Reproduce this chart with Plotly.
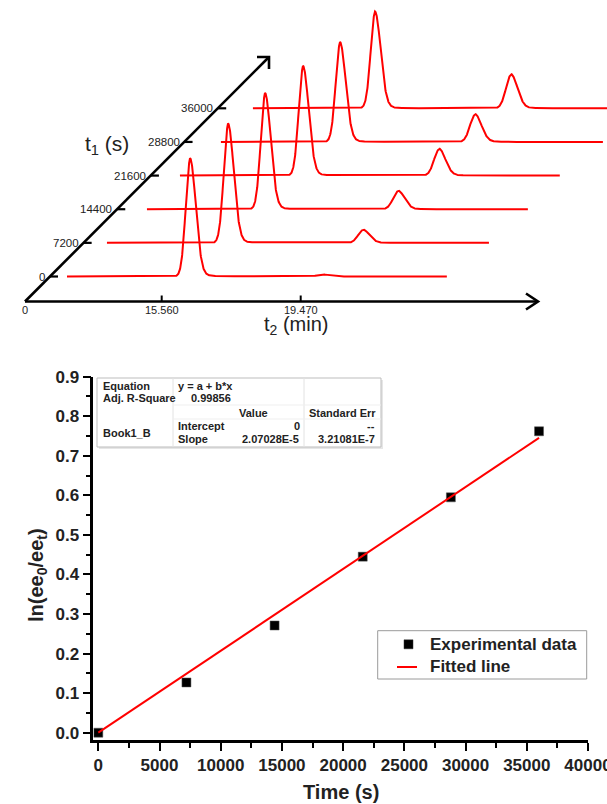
import numpy as np
import plotly.graph_objects as go

# ---------------- data ----------------
# top: chromatograms recorded at reaction times t1 (s)
t1_values = [0, 7200, 14400, 21600, 28800, 36000]
t1_labels = ["0", "7200", "14400", "21600", "28800", "36000"]
peak1_t2 = [16.356, 16.379, 16.373, 16.395, 16.390, 16.328]   # min
peak1_height = [116, 117, 114, 107.6, 98, 95]
peak2_t2 = [20.069, 20.176, 20.114, 20.221, 20.187, 20.153]   # min
peak2_height = [2, 12.7, 18, 26, 27, 33]
trace_start = [12.896, 12.974, 13.053, 12.935, 13.042, 12.896]
trace_end = [23.585, 23.720, 23.771, 23.625, 23.788, 23.782]
t2_ticks = [15.560, 19.470]
t2_ticklabels = ["15.560", "19.470"]

# bottom: kinetics
exp_t = [0, 7200, 14400, 21600, 28800, 36000]
exp_y = [0.0, 0.127, 0.271, 0.445, 0.595, 0.762]
fit_t = [0, 36000]
fit_y = [0.0, 0.7453]
x_ticks = [0, 5000, 10000, 15000, 20000, 25000, 30000, 35000, 40000]
x_ticklabels = ["0", "5000", "10000", "15000", "20000", "25000", "30000", "35000", "40000"]
y_ticks = [0, 0.1, 0.2, 0.3, 0.4, 0.5, 0.6, 0.7, 0.8, 0.9]
y_ticklabels = ["0.0", "0.1", "0.2", "0.3", "0.4", "0.5", "0.6", "0.7", "0.8", "0.9"]

# ---------------- geometry helpers ----------------
W, H = 607, 804
FONT = "Liberation Sans, Arial, sans-serif"
RED = "#ff0000"

K = 35.55            # px per minute in the waterfall
PX0 = 161.7          # px of t2 = 15.56
AX_PY = 301.5        # px of the t2 axis line


def px2t2(px):
    return 15.56 + (px - PX0) / K


def py2y(py):
    return AX_PY - py


DX = 1.046 / 7200.0   # min per second of t1 (waterfall offset)
Y0 = 25.0
DY = 33.64 / 7200.0


def fx(px):
    return px / W


def fy(py):
    return 1 - py / H


def asym(d, sl, sr):
    s = np.where(d < 0, sl, sr)
    return np.exp(-0.5 * (d / s) ** 2)


fig = go.Figure()

# ---------------- top waterfall ----------------
for i, t1 in enumerate(t1_values):
    t2 = np.arange(trace_start[i], trace_end[i], 0.005)
    d1 = t2 - peak1_t2[i]
    d2 = t2 - peak2_t2[i]
    sig = (peak1_height[i] * asym(d1, 0.12, 0.16)
           + peak2_height[i] * asym(d2, 0.14, 0.18)
           + np.where(d1 > 0, peak1_height[i] * 0.02 * np.exp(-np.clip(d1, 0, None) / 0.5), 0)
           + np.where(d2 > 0, peak2_height[i] * 0.04 * np.exp(-np.clip(d2, 0, None) / 0.4), 0))
    fig.add_trace(go.Scatter(
        x=t2 + t1 * DX, y=sig + Y0 + t1 * DY, mode="lines",
        line=dict(color=RED, width=2), showlegend=False, hoverinfo="skip",
        xaxis="x", yaxis="y"))

# axes of the waterfall (decoration)
blk = dict(color="black", width=2.6)
corner = (px2t2(25), py2y(AX_PY))
tipx = (px2t2(538), py2y(AX_PY))
tipd = (px2t2(269), py2y(57))
fig.add_trace(go.Scatter(x=[corner[0], tipx[0]], y=[corner[1], tipx[1]], mode="lines",
                         line=blk, showlegend=False, hoverinfo="skip"))
fig.add_trace(go.Scatter(x=[px2t2(526), tipx[0], px2t2(526)],
                         y=[py2y(AX_PY - 8), tipx[1], py2y(AX_PY + 8)], mode="lines",
                         line=blk, showlegend=False, hoverinfo="skip"))
fig.add_trace(go.Scatter(x=[corner[0], tipd[0]], y=[corner[1], tipd[1]], mode="lines",
                         line=blk, showlegend=False, hoverinfo="skip"))
fig.add_trace(go.Scatter(x=[px2t2(257), tipd[0], px2t2(269)],
                         y=[py2y(57), tipd[1], py2y(69)], mode="lines",
                         line=blk, showlegend=False, hoverinfo="skip"))
# t2 ticks
for v in t2_ticks:
    fig.add_trace(go.Scatter(x=[v, v], y=[0, 6], mode="lines", line=dict(color="black", width=2),
                             showlegend=False, hoverinfo="skip"))
ann = []
tickfont = dict(family=FONT, size=11, color="#222")
ann.append(dict(x=corner[0], y=-8, xref="x", yref="y", text="0", showarrow=False,
                font=tickfont, xanchor="center", yanchor="middle"))
for v, lab in zip(t2_ticks, t2_ticklabels):
    ann.append(dict(x=v, y=-8, xref="x", yref="y", text=lab, showarrow=False,
                    font=tickfont, xanchor="center", yanchor="middle"))
# t1 ticks along the diagonal
for t1, lab in zip(t1_values, t1_labels):
    yb = Y0 + t1 * DY
    pxl = 25 + yb
    fig.add_trace(go.Scatter(x=[px2t2(pxl), px2t2(pxl + 8)], y=[yb, yb], mode="lines",
                             line=dict(color="black", width=2.2), showlegend=False, hoverinfo="skip"))
    ann.append(dict(x=px2t2(pxl - 3), y=yb, xref="x", yref="y", text=lab, showarrow=False,
                    font=dict(family=FONT, size=11.5, color="#222"), xanchor="right", yanchor="middle"))
ann.append(dict(x=px2t2(107), y=py2y(145), xref="x", yref="y", text="t<sub>1</sub> (s)",
                showarrow=False, font=dict(family=FONT, size=21, color="#222"),
                xanchor="center", yanchor="middle"))
ann.append(dict(x=px2t2(296), y=py2y(325), xref="x", yref="y", text="t<sub>2</sub> (min)",
                showarrow=False, font=dict(family=FONT, size=20, color="#222"),
                xanchor="center", yanchor="middle"))

# ---------------- bottom plot ----------------
fig.add_trace(go.Scatter(x=exp_t, y=exp_y, mode="markers", name="Experimental data",
                         marker=dict(symbol="square", size=9, color="black",
                                     line=dict(color="#555", width=0.5)),
                         xaxis="x2", yaxis="y2", showlegend=False))
fig.add_trace(go.Scatter(x=fit_t, y=fit_y, mode="lines", name="Fitted line",
                         line=dict(color=RED, width=2), xaxis="x2", yaxis="y2", showlegend=False))

# titles
ann.append(dict(x=fx(341), y=fy(792), xref="paper", yref="paper", text="Time (s)",
                showarrow=False, font=dict(family=FONT, size=20, color="#222", weight="bold"),
                xanchor="center", yanchor="middle"))
ann.append(dict(x=fx(37), y=fy(575), xref="paper", yref="paper",
                text="ln(ee<sub>0</sub>/ee<sub>t</sub>)", textangle=-90,
                showarrow=False, font=dict(family=FONT, size=20, color="#222", weight="bold"),
                xanchor="center", yanchor="middle"))

shapes = []
# legend box (drawn by hand to match the reference box)
shapes.append(dict(type="rect", xref="paper", yref="paper", x0=fx(377.7), x1=fx(586.7),
                   y0=fy(630.7), y1=fy(679), line=dict(color="#9a9a9a", width=1),
                   fillcolor="white", layer="above"))
shapes.append(dict(type="rect", xref="paper", yref="paper", x0=fx(404), x1=fx(413),
                   y0=fy(639.8), y1=fy(648.8), line=dict(color="#333", width=0.5),
                   fillcolor="black", layer="above"))
shapes.append(dict(type="line", xref="paper", yref="paper", x0=fx(397), x1=fx(417),
                   y0=fy(667), y1=fy(667), line=dict(color=RED, width=2), layer="above"))
lf = dict(family=FONT, size=17, color="#222", weight="bold")
ann.append(dict(x=fx(428), y=fy(644.3), xref="paper", yref="paper", text="Experimental data",
                showarrow=False, font=lf, xanchor="left", yanchor="middle"))
ann.append(dict(x=fx(428), y=fy(666.7), xref="paper", yref="paper", text="Fitted line",
                showarrow=False, font=lf, xanchor="left", yanchor="middle"))

# fit table
shapes.append(dict(type="rect", xref="paper", yref="paper", x0=fx(99), x1=fx(383), y0=fy(380), y1=fy(449),
                   line=dict(width=0), fillcolor="#e6e6e6", layer="above"))
shapes.append(dict(type="rect", xref="paper", yref="paper", x0=fx(97), x1=fx(381), y0=fy(378), y1=fy(447),
                   line=dict(color="#bdbdbd", width=1), fillcolor="white", layer="above"))
for vx in [173, 304]:
    shapes.append(dict(type="line", xref="paper", yref="paper", x0=fx(vx), x1=fx(vx), y0=fy(378), y1=fy(447),
                       line=dict(color="#e2e2e2", width=1), layer="above"))
for hy in [405, 419]:
    shapes.append(dict(type="line", xref="paper", yref="paper", x0=fx(173), x1=fx(381), y0=fy(hy), y1=fy(hy),
                       line=dict(color="#efefef", width=1), layer="above"))
tf = dict(family=FONT, size=11, color="#222", weight="bold")
cells = [
    ("Equation", 101, 385.7, "left"),
    ("Adj. R-Square", 101, 398, "left"),
    ("Book1_B", 101, 432.7, "left"),
    ("y = a + b*x", 176, 385.7, "left"),
    ("0.99856", 233, 398, "right"),
    ("Intercept", 176, 426, "left"),
    ("Slope", 176, 439, "left"),
    ("Value", 237, 412.7, "left"),
    ("0", 302, 426, "right"),
    ("2.07028E-5", 301, 439, "right"),
    ("Standard Err", 307, 412.7, "left"),
    ("--", 377, 426, "right"),
    ("3.21081E-7", 377, 439, "right"),
]
for txt, px, py, al in cells:
    ann.append(dict(x=fx(px), y=fy(py), xref="paper", yref="paper", text=txt, showarrow=False,
                    font=tf, xanchor=al, yanchor="middle"))

axis_common = dict(showline=True, linecolor="black", linewidth=2.6, ticks="outside",
                   ticklen=8, tickwidth=2, tickcolor="black", showgrid=False, zeroline=False,
                   mirror=False, automargin=False, ticklabeloverflow="allow",
                   tickfont=dict(family=FONT, size=17, color="#222", weight="bold"))

fig.update_layout(
    width=W, height=H,
    margin=dict(l=0, r=0, t=0, b=0),
    paper_bgcolor="white", plot_bgcolor="white",
    showlegend=False,
    xaxis=dict(domain=[0, 1], range=[px2t2(0), px2t2(W)], visible=False, fixedrange=True),
    yaxis=dict(domain=[fy(340), 1], range=[py2y(340), py2y(0)], visible=False, fixedrange=True),
    xaxis2=dict(domain=[fx(93.4), fx(588)], range=[-400, 40000], anchor="y2",
                tickmode="array", tickvals=x_ticks, ticktext=x_ticklabels,
                minor=dict(tickmode="array",
                           tickvals=[2500, 7500, 12500, 17500, 22500, 27500, 32500, 37500],
                           ticklen=5, tickwidth=2, tickcolor="black", ticks="outside"),
                **axis_common),
    yaxis2=dict(domain=[fy(740), fy(376.7)], range=[-0.0185, 0.9], anchor="x2",
                tickmode="array", tickvals=y_ticks, ticktext=y_ticklabels,
                minor=dict(tickmode="array",
                           tickvals=[0.05, 0.15, 0.25, 0.35, 0.45, 0.55, 0.65, 0.75, 0.85],
                           ticklen=5, tickwidth=2, tickcolor="black", ticks="outside"),
                **axis_common),
    annotations=ann,
    shapes=shapes,
)

fig.write_html("out.html", config={"displayModeBar": False},
               post_script="document.body.style.margin='0';document.body.style.overflow='hidden';")
